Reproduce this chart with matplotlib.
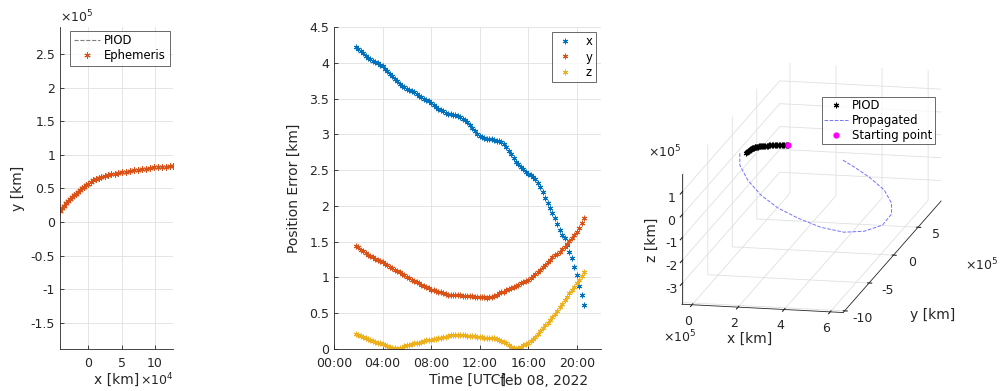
import numpy as np
import pandas as pd
import matplotlib
matplotlib.use('Agg')
import matplotlib.pyplot as plt
import matplotlib.dates as mdates
from matplotlib.ticker import FuncFormatter

plt.rcParams['font.family'] = ['DejaVu Sans']
plt.rcParams['axes.unicode_minus'] = False

# ---- left panel: ephemeris in x-y (x in 1e4 km, y in 1e5 km)
eph_x = [-4.2, -3.9, -3.6, -3.3, -3.0, -2.7, -2.4, -2.1, -1.8, -1.5, -1.2, -0.9, -0.6, -0.3,
         0.0, 0.4, 0.8, 1.2, 1.6, 2.0, 2.5, 3.0, 3.5, 4.0, 4.5, 5.0, 5.6, 6.2, 6.8, 7.4,
         8.0, 8.6, 9.2, 9.8, 10.4, 11.0, 11.6, 12.2, 12.7]
eph_y = [0.17, 0.21, 0.24, 0.28, 0.31, 0.34, 0.37, 0.40, 0.42, 0.45, 0.47, 0.50, 0.52, 0.55,
         0.57, 0.60, 0.62, 0.64, 0.66, 0.67, 0.69, 0.70, 0.71, 0.72, 0.73, 0.74, 0.75, 0.76,
         0.77, 0.78, 0.79, 0.79, 0.80, 0.81, 0.81, 0.82, 0.82, 0.83, 0.835]

# ---- middle panel: position error [km], one sample every 12 min from 01:48 UTC
t_start = '2022-02-08 01:48'
t_step = '12min'
err_x = [4.22, 4.19, 4.16, 4.13, 4.10, 4.07, 4.05, 4.03, 4.01, 3.99,
         3.97, 3.95, 3.92, 3.89, 3.85, 3.81, 3.77, 3.74, 3.71, 3.68,
         3.66, 3.64, 3.62, 3.61, 3.59, 3.57, 3.54, 3.52, 3.50, 3.48,
         3.46, 3.44, 3.41, 3.38, 3.36, 3.34, 3.32, 3.30, 3.29, 3.28,
         3.27, 3.27, 3.26, 3.24, 3.22, 3.20, 3.17, 3.13, 3.09, 3.05,
         3.01, 2.98, 2.96, 2.95, 2.94, 2.94, 2.93, 2.92, 2.91, 2.90,
         2.89, 2.86, 2.82, 2.77, 2.72, 2.67, 2.62, 2.58, 2.54, 2.51,
         2.48, 2.45, 2.43, 2.40, 2.37, 2.32, 2.26, 2.19, 2.11, 2.04,
         1.97, 1.90, 1.83, 1.75, 1.67, 1.60, 1.55, 1.46, 1.36, 1.27,
         1.15, 1.03, 0.88, 0.76, 0.61]
err_y = [1.44, 1.42, 1.39, 1.37, 1.34, 1.32, 1.30, 1.28, 1.26, 1.24,
         1.23, 1.21, 1.19, 1.17, 1.15, 1.13, 1.11, 1.09, 1.07, 1.05,
         1.03, 1.01, 0.99, 0.97, 0.95, 0.93, 0.92, 0.90, 0.88, 0.86,
         0.85, 0.83, 0.82, 0.81, 0.80, 0.79, 0.78, 0.77, 0.76, 0.76,
         0.75, 0.75, 0.75, 0.75, 0.74, 0.74, 0.74, 0.74, 0.74, 0.73,
         0.73, 0.73, 0.72, 0.72, 0.71, 0.72, 0.73, 0.74, 0.76, 0.78,
         0.79, 0.80, 0.82, 0.84, 0.85, 0.87, 0.88, 0.90, 0.92, 0.93,
         0.95, 0.97, 0.99, 1.02, 1.05, 1.08, 1.11, 1.15, 1.18, 1.21,
         1.25, 1.28, 1.31, 1.33, 1.36, 1.40, 1.43, 1.47, 1.51, 1.55,
         1.59, 1.63, 1.69, 1.76, 1.83]
err_z = [0.21, 0.20, 0.18, 0.17, 0.15, 0.14, 0.13, 0.11, 0.10, 0.09,
         0.08, 0.07, 0.06, 0.04, 0.03, 0.02, 0.01, 0.00, 0.01, 0.02,
         0.04, 0.05, 0.06, 0.07, 0.08, 0.09, 0.09, 0.10, 0.11, 0.12,
         0.12, 0.13, 0.14, 0.14, 0.15, 0.16, 0.17, 0.17, 0.18, 0.19,
         0.19, 0.19, 0.19, 0.19, 0.19, 0.19, 0.18, 0.18, 0.18, 0.18,
         0.17, 0.17, 0.17, 0.16, 0.16, 0.16, 0.15, 0.15, 0.14, 0.12,
         0.11, 0.10, 0.08, 0.06, 0.03, 0.01, 0.00, 0.02, 0.03, 0.05,
         0.07, 0.09, 0.11, 0.14, 0.17, 0.21, 0.25, 0.29, 0.33, 0.37,
         0.41, 0.45, 0.49, 0.53, 0.58, 0.63, 0.68, 0.73, 0.78, 0.83,
         0.87, 0.92, 0.97, 1.02, 1.08]

# ---- right panel: 3D orbit (units of 1e5 km)
piod3_x = [0.13, 0.16, 0.19, 0.22, 0.25, 0.28, 0.31, 0.34, 0.37, 0.40, 0.43, 0.46, 0.49, 0.52,
           0.55, 0.59, 0.63, 0.67, 0.71, 0.75, 0.80, 0.85, 0.90, 0.95, 1.00, 1.05, 1.11, 1.17,
           1.23, 1.29, 1.35, 1.41, 1.47, 1.53, 1.59, 1.65, 1.71, 1.77, 1.82]
piod3_y = eph_y
piod3_z = [0.20, 0.23, 0.26, 0.28, 0.30, 0.32, 0.34, 0.35, 0.36, 0.37, 0.38, 0.39, 0.39, 0.40,
           0.40, 0.41, 0.41, 0.42, 0.42, 0.42, 0.43, 0.43, 0.43, 0.43, 0.44, 0.44, 0.44, 0.44,
           0.44, 0.45, 0.45, 0.45, 0.45, 0.45, 0.45, 0.45, 0.45, 0.45, 0.45]
prop_x = [-0.12, -0.12, 0.19, 0.70, 1.36, 2.14, 3.00, 3.89, 4.67, 5.37, 5.72, 5.72, 5.44, 4.86, 4.28, 3.85]
prop_y = [0.03, 0.03, 0.22, 0.52, 0.92, 1.39, 1.90, 2.44, 2.90, 3.33, 3.54, 3.54, 3.37, 3.02, 2.67, 2.41]
prop_z = [0.20, -0.32, -1.01, -1.71, -2.34, -2.86, -3.33, -3.63, -3.66, -3.46, -3.01, -2.53, -1.93, -1.31, -0.81, -0.47]

c_blue = (0.0, 0.447, 0.741)
c_orange = (0.85, 0.325, 0.098)
c_yellow = (0.929, 0.694, 0.125)
ax_col = (0.15, 0.15, 0.15)
grid_col = (0.88, 0.88, 0.88)
star = (6, 2, 0)
fmt_g = FuncFormatter(lambda v, p: '%g' % v)


def matlab_style(ax):
    for s in ['top', 'right']:
        ax.spines[s].set_visible(False)
    for s in ['left', 'bottom']:
        ax.spines[s].set_color(ax_col)
        ax.spines[s].set_linewidth(0.6)
    ax.tick_params(direction='in', length=3, width=0.6, colors=ax_col, labelsize=9)
    ax.tick_params(axis='x', pad=6)
    ax.grid(True, color=grid_col, linewidth=0.6)
    ax.set_axisbelow(True)


fig = plt.figure(figsize=(10.01, 3.91), dpi=100)

# left
ax1 = fig.add_axes([60/1001, 42/391, 113/1001, 322/391])
matlab_style(ax1)
ax1.plot(np.array(eph_x), np.array(eph_y), '--', color='0.5', lw=0.8, label='PIOD')
ax1.plot(np.array(eph_x), np.array(eph_y), ls='none', marker=star, ms=4.5, mew=0.7,
         color=c_orange, label='Ephemeris')
ax1.set_xlim(-4.2, 12.7)
ax1.set_ylim(-1.89, 2.9)
ax1.set_xticks([0, 5, 10])
ax1.set_yticks(np.arange(-1.5, 2.51, 0.5))
ax1.yaxis.set_major_formatter(fmt_g)
ax1.set_xlabel('x [km]', fontsize=10, color=ax_col, labelpad=2)
ax1.set_ylabel('y [km]', fontsize=10, color=ax_col, labelpad=4)
ax1.text(0.0, 1.005, r'$\times10^{5}$', transform=ax1.transAxes, ha='left', va='bottom',
         fontsize=9, color=ax_col)
ax1.text(1.0, -0.112, r'$\times10^{4}$', transform=ax1.transAxes, ha='right', va='baseline',
         fontsize=9, color=ax_col)
lg = ax1.legend(loc='upper right', fontsize=8.4, frameon=True, fancybox=False,
                borderaxespad=0.3, handlelength=2.2, handletextpad=0.4, borderpad=0.3,
                labelspacing=0.2, numpoints=1)
lg.get_frame().set_edgecolor(ax_col)
lg.get_frame().set_linewidth(0.6)

# middle
times = pd.date_range(t_start, periods=len(err_x), freq=t_step)
ax2 = fig.add_axes([334/1001, 42/391, 267/1001, 322/391])
matlab_style(ax2)
ax2.plot(times, err_x, ls='none', marker=star, ms=4, mew=0.7, color=c_blue, label='x')
ax2.plot(times, err_y, ls='none', marker=star, ms=4, mew=0.7, color=c_orange, label='y')
ax2.plot(times, err_z, ls='none', marker=star, ms=4, mew=0.7, color=c_yellow, label='z')
ax2.set_xlim(pd.Timestamp('2022-02-08 00:00'), pd.Timestamp('2022-02-08 22:00'))
ax2.set_ylim(0, 4.5)
ax2.xaxis.set_major_locator(mdates.HourLocator(byhour=range(0, 24, 4)))
ax2.xaxis.set_major_formatter(mdates.DateFormatter('%H:%M'))
ax2.set_yticks(np.arange(0, 4.51, 0.5))
ax2.yaxis.set_major_formatter(fmt_g)
ax2.set_xlabel('Time [UTC]', fontsize=10, color=ax_col, labelpad=2)
ax2.set_ylabel('Position Error [km]', fontsize=10, color=ax_col, labelpad=6)
ax2.text(0.95, -0.112, 'feb 08, 2022', transform=ax2.transAxes, ha='right', va='baseline',
         fontsize=10, color=ax_col)
lg2 = ax2.legend(loc='upper right', fontsize=8.4, frameon=True, fancybox=False,
                 borderaxespad=0.4, handlelength=1.6, handletextpad=1.0, borderpad=0.3,
                 labelspacing=0.2, numpoints=1)
lg2.get_frame().set_edgecolor(ax_col)
lg2.get_frame().set_linewidth(0.6)

# right 3D
ax3 = fig.add_axes([637/1001, 34/391, 340/1001, 330/391], projection='3d')
ax3.set_proj_type('ortho')
ax3.view_init(elev=14, azim=-78)
ax3.set_xlim(-0.44, 6.56)
ax3.set_ylim(-10.3, 9.7)
ax3.set_zlim(-3.9, 1.8)
ax3.set_box_aspect((7.0, 20.0, 5.7), zoom=1.52)
ax3.plot(piod3_x, piod3_y, piod3_z, ls='none', marker=star, ms=4, mew=0.8,
         color='k', label='PIOD')
ax3.plot(prop_x, prop_y, prop_z, '--', color=(0.45, 0.45, 1.0), lw=0.7, label='Propagated')
ax3.plot(piod3_x[-1:], piod3_y[-1:], piod3_z[-1:], ls='none', marker='o', ms=3.5,
         color='magenta', label='Starting point')
ax3.set_xticks([0, 2, 4, 6])
ax3.set_yticks([-10, -5, 0, 5])
ax3.set_zticks([-3, -2, -1, 0, 1])
for a in [ax3.xaxis, ax3.yaxis, ax3.zaxis]:
    a.set_pane_color((1, 1, 1, 0))
    a.pane.set_edgecolor(grid_col)
    a.line.set_color(ax_col)
    a.line.set_linewidth(0.6)
    a._axinfo['grid'].update(color=grid_col, linewidth=0.6)
    a.set_major_formatter(fmt_g)
ax3.zaxis.set_ticks_position('lower')
# push y and z tick labels sideways only (like matlab), not diagonally
ax3.yaxis._axmask = lambda: [True, False, False]
ax3.zaxis._axmask = lambda: [True, False, False]
ax3.tick_params(labelsize=9, colors=ax_col, pad=0)
ax3.tick_params(axis='x', pad=-3)
ax3.tick_params(axis='y', pad=6)
ax3.tick_params(axis='z', pad=0)
ax3.text2D(750/1001, 1 - 339/391, 'x [km]', transform=fig.transFigure, ha='center',
           va='center', fontsize=10, color=ax_col)
ax3.text2D(933/1001, 1 - 315/391, 'y [km]', transform=fig.transFigure, ha='center',
           va='center', fontsize=10, color=ax_col)
ax3.text2D(652/1001, 1 - 240/391, 'z [km]', transform=fig.transFigure, ha='center',
           va='center', rotation=90, fontsize=10, color=ax_col)
lg3 = ax3.legend(loc='upper left', bbox_to_anchor=(822/1001, 1 - 97/391),
                 bbox_transform=fig.transFigure, fontsize=8.4, frameon=True, fancybox=False,
                 handlelength=2.0, handletextpad=0.4, borderpad=0.2, labelspacing=0.15,
                 borderaxespad=0, numpoints=1)
lg3.get_frame().set_edgecolor(ax_col)
lg3.get_frame().set_linewidth(0.6)
fig.text(648/1001, 1 - 157/391, r'$\times10^{5}$', fontsize=9, color=ax_col)
fig.text(663/1001, 1 - 342/391, r'$\times10^{5}$', fontsize=9, color=ax_col)
fig.text(965/1001, 1 - 270/391, r'$\times10^{5}$', fontsize=9, color=ax_col)

fig.savefig('out.png', dpi=100)
